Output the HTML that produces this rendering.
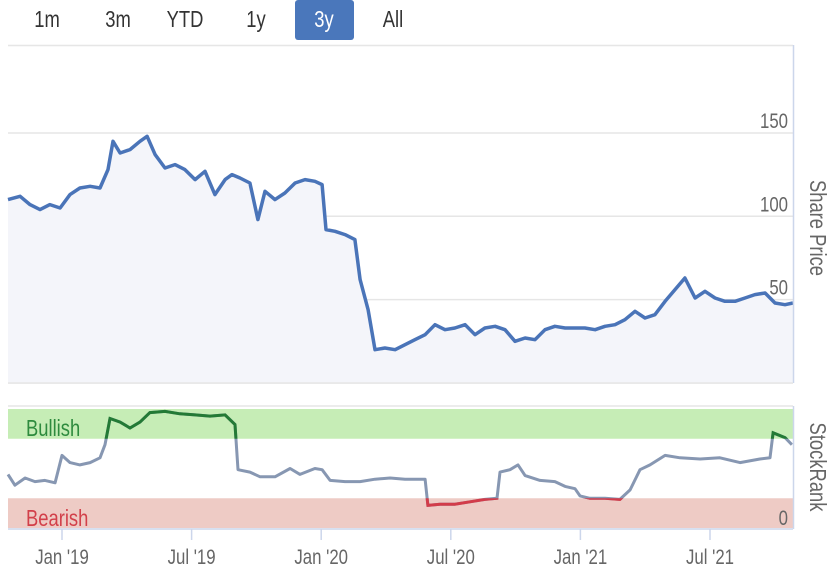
<!DOCTYPE html>
<html><head><meta charset="utf-8">
<style>
html,body{margin:0;padding:0;background:#fff;}
svg{display:block;font-family:"Liberation Sans",sans-serif;}
</style></head>
<body>
<svg id="chart" width="838" height="579" viewBox="0 0 838 579">
  <g>
    <text transform="translate(47,27) scale(0.8,1)" font-size="23" fill="#333" text-anchor="middle">1m</text>
    <text transform="translate(118,27) scale(0.8,1)" font-size="23" fill="#333" text-anchor="middle">3m</text>
    <text transform="translate(185,27) scale(0.8,1)" font-size="23" fill="#333" text-anchor="middle">YTD</text>
    <text transform="translate(256,27) scale(0.8,1)" font-size="23" fill="#333" text-anchor="middle">1y</text>
    <rect x="295" y="0" width="59" height="40" rx="3" fill="#4a77bb"/>
    <text transform="translate(324,27) scale(0.8,1)" font-size="23" fill="#fff" text-anchor="middle">3y</text>
    <text transform="translate(393,27) scale(0.8,1)" font-size="23" fill="#333" text-anchor="middle">All</text>
  </g>
  <g id="price"></g>
  <g id="rank"></g>
  <g id="xaxis"></g>
</svg>
<script>
const priceDates=[-2.5,-1.94,-1.48,-1.02,-0.56,-0.09,0.37,0.83,1.3,1.76,2.13,2.36,2.69,3.15,3.61,3.94,4.31,4.77,5.23,5.69,6.16,6.62,7.08,7.55,7.87,8.24,8.7,9.07,9.4,9.86,10.32,10.79,11.25,11.71,12.04,12.22,12.64,13.1,13.56,13.8,14.17,14.49,14.95,15.42,15.88,16.34,16.81,17.27,17.73,18.19,18.66,19.12,19.58,20.05,20.51,20.97,21.44,21.9,22.36,22.82,23.29,23.75,24.21,24.68,25.14,25.6,26.06,26.53,26.99,27.45,27.92,28.38,28.84,29.31,29.77,30.23,30.69,31.16,31.62,32.08,32.55,33.01,33.47,33.84];
const priceValues=[110,112,107,104,107,105,113,117,118,117,128,145,138,140,145,148,137,129,131,128,122,127,113,122,125,123,120,98,115,110,114,120,122,121,119,92,91,89,86,62,44,20,21,20,23,26,29,35,32,33,35,29,33,34,32,25,27,26,32,34,33,33,33,32,34,35,38,43,39,41,49,56,63,51,55,51,49,49,51,53,54,48,47,48];
const rankDates=[-2.5,-2.18,-1.71,-1.25,-0.79,-0.32,0,0.37,0.83,1.3,1.76,1.99,2.22,2.69,3.15,3.61,4.07,4.77,5.46,6.16,6.85,7.55,8.01,8.15,8.7,9.17,9.86,10.56,11.02,11.71,12.04,12.41,13.1,13.8,14.49,15.19,15.88,16.81,16.94,17.5,18.19,18.89,19.58,20.14,20.28,20.74,21.11,21.44,22.13,22.82,23.29,23.75,23.98,24.44,25.14,25.83,26.3,26.76,27.22,27.92,28.61,29.54,30.46,31.39,32.31,32.78,32.92,33.47,33.79];
const rankValues=[45,36,42,39,40,38,61,55,53,55,59,70,92,89,84,89,97,98,96,95,94,95,87,49,47,43,43,50,45,50,49,40,39,39,41,42,41,41,19,20,20,22,24,25,47,49,53,44,40,39,35,33,27,25,25,24,32,49,53,61,59,58,59,55,58,59,80,76,70];
const priceTicks=[0,50,100,150];
const xTickMonths=[0,6,12,18,24,30];
const xTickLabels=["Jan '19","Jul '19","Jan '20","Jul '20","Jan '21","Jul '21"];

const NS="http://www.w3.org/2000/svg";
const L=8,R=793;
const xs=m=>62+m*21.6;
const yp=v=>383-v*1.667;
const yr=v=>528-v*1.19;
function mk(tag,attrs,parent){const e=document.createElementNS(NS,tag);for(const k in attrs)e.setAttribute(k,attrs[k]);parent.appendChild(e);return e;}
function tx(x,y,extra,parent,rot){const tr='translate('+x+','+y+')'+(rot?' rotate(90)':'')+' scale(0.8,1)';return mk('text',Object.assign({transform:tr},extra),parent);}
const P=document.getElementById('price'),RK=document.getElementById('rank'),XA=document.getElementById('xaxis');

let t=mk('line',{x1:L,x2:R,y1:45.5,y2:45.5,stroke:'#e6e6e6','stroke-width':1.5},P);


priceTicks.forEach(v=>{
  const g=mk('line',{x1:L,x2:R,y1:yp(v),y2:yp(v),stroke:'#e6e6e6','stroke-width':1.5},P);
  
  
  const lb=tx(788,yp(v)-5,{'font-size':21,fill:'#666','text-anchor':'end'},P);
  lb.textContent=v;
  
  
});
let pts=priceDates.map((d,i)=>xs(d).toFixed(1)+','+yp(priceValues[i]).toFixed(1));
t=mk('path',{d:'M'+xs(priceDates[0])+','+yp(0)+'L'+pts.join('L')+'L'+xs(priceDates[priceDates.length-1])+','+yp(0)+'Z',fill:'#f4f5fa'},P);


t=mk('path',{d:'M'+pts.join('L'),fill:'none',stroke:'#4a74b8','stroke-width':3.5,'stroke-linejoin':'round'},P);


t=mk('line',{x1:R+0.5,x2:R+0.5,y1:45,y2:383,stroke:'#ccd6eb','stroke-width':1.5},P);


t=mk('line',{x1:L,x2:R,y1:383,y2:383,stroke:'#e6e6e6','stroke-width':1.5},P);


t=tx(810,228,{'font-size':23,fill:'#666','text-anchor':'middle'},P,true);
t.textContent='Share Price';



t=mk('line',{x1:L,x2:R,y1:406,y2:406,stroke:'#e6e6e6','stroke-width':1.5},RK);


t=mk('rect',{x:L,y:yr(100),width:R-L,height:yr(75)-yr(100),fill:'#c6edb6'},RK);


t=mk('rect',{x:L,y:yr(25),width:R-L,height:yr(0)-yr(25),fill:'#eecbc5'},RK);


t=tx(26,436,{'font-size':23,fill:'#2e8b3e'},RK);
t.textContent='Bullish';


t=tx(26,526,{'font-size':23,fill:'#d2404a'},RK);
t.textContent='Bearish';


const defs=mk('defs',{},RK);
const c1=mk('clipPath',{id:'cg'},defs);mk('rect',{x:0,y:0,width:838,height:yr(75)},c1);
const c2=mk('clipPath',{id:'cr'},defs);mk('rect',{x:0,y:yr(25),width:838,height:100},c2);
const rp='M'+rankDates.map((d,i)=>xs(d).toFixed(1)+','+yr(rankValues[i]).toFixed(1)).join('L');
t=mk('path',{d:rp,fill:'none',stroke:'#8797b2','stroke-width':3,'stroke-linejoin':'round'},RK);


t=mk('path',{d:rp,fill:'none',stroke:'#237a35','stroke-width':3,'clip-path':'url(#cg)'},RK);


t=mk('path',{d:rp,fill:'none',stroke:'#d23c4a','stroke-width':3,'clip-path':'url(#cr)'},RK);


t=tx(788,525,{'font-size':21,fill:'#666','text-anchor':'end'},RK);
t.textContent='0';


t=mk('line',{x1:R+0.5,x2:R+0.5,y1:406,y2:529,stroke:'#ccd6eb','stroke-width':1.5},RK);


t=tx(810,467,{'font-size':23,fill:'#666','text-anchor':'middle'},RK,true);
t.textContent='StockRank';



t=mk('line',{x1:L,x2:R,y1:529,y2:529,stroke:'#ccd6eb','stroke-width':1.5},XA);


xTickMonths.forEach((m,i)=>{
  const tk=mk('line',{x1:xs(m),x2:xs(m),y1:529,y2:540,stroke:'#ccd6eb','stroke-width':1.5},XA);
  
  
  const lb=tx(xs(m),564,{'font-size':21,fill:'#666','text-anchor':'middle'},XA);
  lb.textContent=xTickLabels[i];
  
  
});
</script>
</body></html>
